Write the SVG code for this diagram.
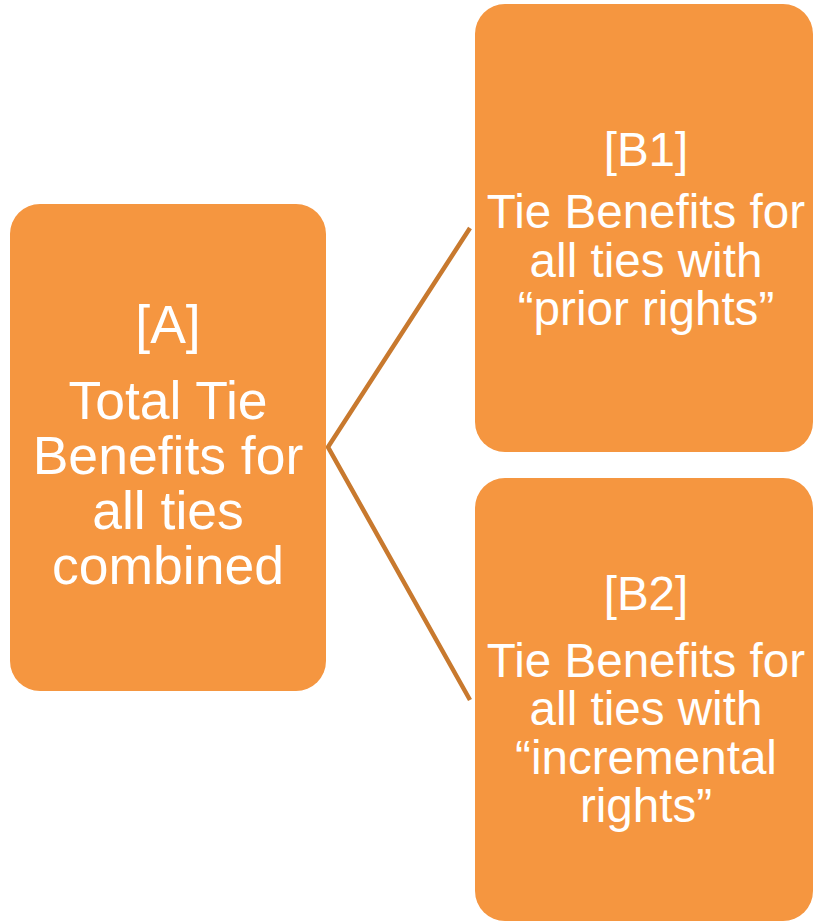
<svg xmlns="http://www.w3.org/2000/svg" width="813" height="921" viewBox="0 0 813 921">
<style>
.box{fill:#F59640;}
.t{font-family:"Liberation Sans",Arial,sans-serif;fill:#FFFFFF;text-anchor:middle;}
.ta{font-size:53.5px;}
.tb{font-size:47.6px;}
.conn{stroke:#C8792E;stroke-width:4.5;fill:none;}
</style>
<rect width="813" height="921" fill="#FFFFFF"/>
<g id="connectors">
<polyline class="conn" points="470,228 328,447 470,700"/>
</g>
<g id="nodeA">
<rect class="box" x="10" y="204" width="316" height="487" rx="30"/>
<text class="t ta" x="168" y="343">[A]</text>
<text class="t ta" x="168" y="419">Total Tie</text>
<text class="t ta" x="168" y="474">Benefits for</text>
<text class="t ta" x="168" y="529">all ties</text>
<text class="t ta" x="168" y="584">combined</text>
</g>
<g id="nodeB1">
<rect class="box" x="475" y="4" width="338" height="448" rx="30"/>
<text class="t tb" x="646" y="166">[B1]</text>
<text class="t tb" x="646" y="228">Tie Benefits for</text>
<text class="t tb" x="646" y="277">all ties with</text>
<text class="t tb" x="646" y="325">“prior rights”</text>
</g>
<g id="nodeB2">
<rect class="box" x="475" y="478" width="338" height="443" rx="30"/>
<text class="t tb" x="646" y="610">[B2]</text>
<text class="t tb" x="646" y="677">Tie Benefits for</text>
<text class="t tb" x="646" y="725">all ties with</text>
<text class="t tb" x="646" y="774">“incremental</text>
<text class="t tb" x="646" y="822">rights”</text>
</g>
</svg>
